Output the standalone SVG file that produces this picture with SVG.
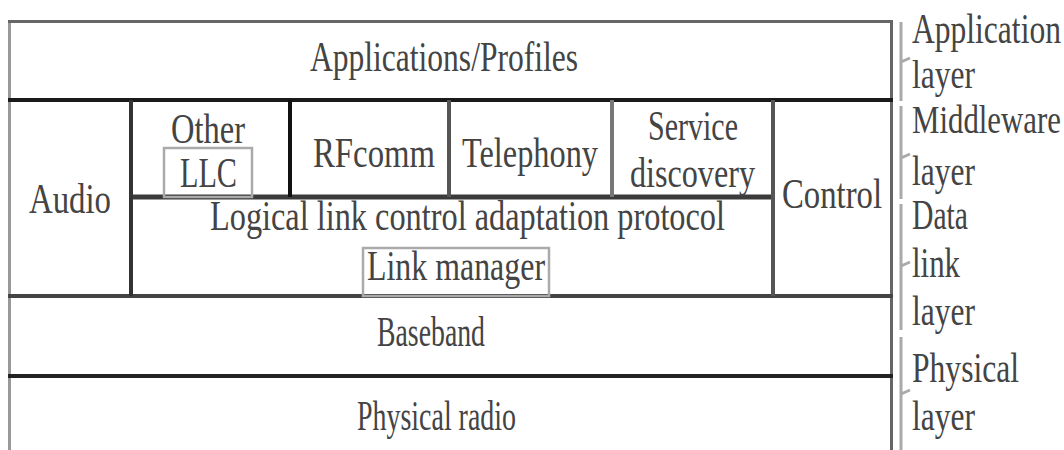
<svg xmlns="http://www.w3.org/2000/svg" width="1064" height="450" viewBox="0 0 1064 450">
<style>
  text { font-family: "Liberation Serif", "Times New Roman", serif; font-size: 42px; fill: #444; }
  .sm { font-size: 40px; }
  .thin { fill: none; stroke: #aaa; stroke-width: 2.5; }
  .brace { fill: none; stroke: #aaa; stroke-width: 3; }
</style>
<rect width="1064" height="450" fill="#fff"/>
<g id="connectors">
  <line x1="9.5" y1="20" x2="9.5" y2="450" stroke="#999" stroke-width="3"/>
  <line x1="891.5" y1="20" x2="891.5" y2="450" stroke="#666" stroke-width="3"/>
  <line x1="8" y1="21.5" x2="893" y2="21.5" stroke="#666" stroke-width="3"/>
  <line x1="8" y1="100" x2="893" y2="100" stroke="#1a1a1a" stroke-width="4"/>
  <line x1="129" y1="197" x2="775" y2="197" stroke="#3a3a3a" stroke-width="5"/>
  <line x1="8" y1="296" x2="893" y2="296" stroke="#444" stroke-width="4"/>
  <line x1="8" y1="376" x2="893" y2="376" stroke="#222" stroke-width="4"/>
  <line x1="131" y1="100" x2="131" y2="296" stroke="#333" stroke-width="4"/>
  <line x1="290" y1="100" x2="290" y2="197" stroke="#111" stroke-width="4"/>
  <line x1="449" y1="100" x2="449" y2="197" stroke="#555" stroke-width="4"/>
  <line x1="612" y1="100" x2="612" y2="197" stroke="#777" stroke-width="4"/>
  <line x1="773" y1="100" x2="773" y2="296" stroke="#555" stroke-width="4"/>
</g>
<g id="applications"><text x="310" y="71" textLength="268" lengthAdjust="spacingAndGlyphs">Applications/Profiles</text></g>
<g id="audio"><text x="29" y="213" textLength="82" lengthAdjust="spacingAndGlyphs">Audio</text></g>
<g id="other-llc">
  <text x="171" y="143" textLength="74" lengthAdjust="spacingAndGlyphs">Other</text>
  <rect class="thin" x="164" y="148" width="88" height="49"/>
  <text x="180" y="187" textLength="57" lengthAdjust="spacingAndGlyphs">LLC</text>
</g>
<g id="rfcomm"><text x="313" y="167" textLength="122" lengthAdjust="spacingAndGlyphs">RFcomm</text></g>
<g id="telephony"><text x="462" y="167" textLength="136" lengthAdjust="spacingAndGlyphs">Telephony</text></g>
<g id="service-discovery">
  <text x="648" y="140" textLength="90" lengthAdjust="spacingAndGlyphs">Service</text>
  <text x="630" y="187" textLength="125" lengthAdjust="spacingAndGlyphs">discovery</text>
</g>
<g id="control"><text x="782" y="208" textLength="100" lengthAdjust="spacingAndGlyphs">Control</text></g>
<g id="l2cap"><text transform="scale(0.8,1)" x="262.5" y="230" textLength="643.75" lengthAdjust="spacingAndGlyphs">Logical link control adaptation protocol</text></g>
<g id="link-manager">
  <rect class="thin" x="363" y="248" width="186" height="48"/>
  <text x="367" y="280" textLength="178" lengthAdjust="spacingAndGlyphs">Link manager</text>
</g>
<g id="baseband"><text x="377" y="346" textLength="108" lengthAdjust="spacingAndGlyphs">Baseband</text></g>
<g id="physical-radio"><text x="357" y="430" textLength="159" lengthAdjust="spacingAndGlyphs">Physical radio</text></g>
<g id="application-layer">
  <path class="brace" d="M901 22 V62 L910 58 M901 62 V101"/>
  <text transform="scale(0.72,1)" x="1266.67" y="43" textLength="206.9" lengthAdjust="spacingAndGlyphs">Application</text>
  <text class="sm" x="912" y="88" textLength="63" lengthAdjust="spacingAndGlyphs">layer</text>
</g>
<g id="middleware-layer">
  <path class="brace" d="M901 106 V158 L910 154 M901 158 V199"/>
  <text class="sm" transform="scale(0.72,1)" x="1266.67" y="133" textLength="206.9" lengthAdjust="spacingAndGlyphs">Middleware</text>
  <text x="912" y="185" textLength="63" lengthAdjust="spacingAndGlyphs">layer</text>
</g>
<g id="data-link-layer">
  <path class="brace" d="M901 204 V266 L910 262 M901 266 V330"/>
  <text x="912" y="229" textLength="56" lengthAdjust="spacingAndGlyphs">Data</text>
  <text x="912" y="277" textLength="48" lengthAdjust="spacingAndGlyphs">link</text>
  <text x="912" y="325" textLength="63" lengthAdjust="spacingAndGlyphs">layer</text>
</g>
<g id="physical-layer">
  <path class="brace" d="M901 337 V394 L910 390 M901 394 V450"/>
  <text x="912" y="382" textLength="107" lengthAdjust="spacingAndGlyphs">Physical</text>
  <text x="912" y="430" textLength="63" lengthAdjust="spacingAndGlyphs">layer</text>
</g>
</svg>
